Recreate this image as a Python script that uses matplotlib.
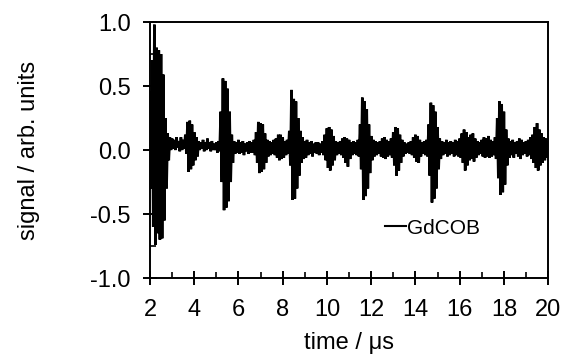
import numpy as np
import matplotlib
matplotlib.use("Agg")
import matplotlib.pyplot as plt
from matplotlib.ticker import MultipleLocator

plt.rcParams['font.family'] = ['Liberation Sans', 'DejaVu Sans']
plt.rcParams.update({
    'xtick.direction': 'inout', 'ytick.direction': 'inout',
    'xtick.major.size': 10, 'ytick.major.size': 10,
    'xtick.major.width': 1.4, 'ytick.major.width': 1.4,
    'xtick.minor.size': 4, 'ytick.minor.size': 4,
    'xtick.minor.width': 1.2, 'ytick.minor.width': 1.2,
    'xtick.major.pad': 10, 'ytick.major.pad': 9,
    'xtick.labelsize': 17, 'ytick.labelsize': 17,
    'axes.linewidth': 1.4,
})

t_start = 2.0
t_step = 0.1
upper = [
    0.45, 0.70, 0.98, 0.80, 0.78, 0.75, 0.59, 0.25, 0.13, 0.10,   # 2.0-2.9
    0.09, 0.08, 0.10, 0.07, 0.10, 0.08, 0.12, 0.22, 0.23, 0.20,   # 3.0-3.9
    0.14, 0.10, 0.07, 0.06, 0.08, 0.06, 0.09, 0.06, 0.07, 0.05,   # 4.0-4.9
    0.06, 0.07, 0.30, 0.56, 0.54, 0.48, 0.30, 0.12, 0.07, 0.06,   # 5.0-5.9
    0.08, 0.06, 0.07, 0.05, 0.06, 0.07, 0.06, 0.08, 0.14, 0.22,   # 6.0-6.9
    0.21, 0.20, 0.13, 0.08, 0.07, 0.06, 0.08, 0.09, 0.12, 0.12,   # 7.0-7.9
    0.10, 0.07, 0.08, 0.15, 0.47, 0.40, 0.38, 0.25, 0.15, 0.10,   # 8.0-8.9
    0.07, 0.08, 0.06, 0.07, 0.05, 0.06, 0.06, 0.05, 0.07, 0.12,   # 9.0-9.9
    0.17, 0.18, 0.16, 0.11, 0.07, 0.06, 0.07, 0.09, 0.10, 0.09,   # 10.0-10.9
    0.08, 0.06, 0.07, 0.06, 0.08, 0.20, 0.41, 0.38, 0.32, 0.20,   # 11.0-11.9
    0.11, 0.08, 0.07, 0.06, 0.07, 0.09, 0.10, 0.08, 0.07, 0.09,   # 12.0-12.9
    0.14, 0.18, 0.17, 0.12, 0.08, 0.06, 0.05, 0.06, 0.07, 0.10,   # 13.0-13.9
    0.12, 0.11, 0.08, 0.06, 0.07, 0.08, 0.20, 0.37, 0.35, 0.30,   # 14.0-14.9
    0.18, 0.09, 0.07, 0.06, 0.08, 0.06, 0.07, 0.06, 0.08, 0.07,   # 15.0-15.9
    0.09, 0.13, 0.16, 0.14, 0.10, 0.12, 0.13, 0.09, 0.07, 0.06,   # 16.0-16.9
    0.08, 0.10, 0.09, 0.11, 0.08, 0.07, 0.10, 0.25, 0.38, 0.36,   # 17.0-17.9
    0.30, 0.16, 0.09, 0.07, 0.08, 0.06, 0.07, 0.09, 0.08, 0.06,   # 18.0-18.9
    0.07, 0.08, 0.10, 0.12, 0.18, 0.21, 0.16, 0.13, 0.10, 0.09,   # 19.0-19.9
    0.07,                                                         # 20.0
]
lower = [
    -0.30, -0.60, -0.74, -0.65, -0.70, -0.69, -0.55, -0.30, -0.08, 0.00,
    0.01, 0.00, 0.02, -0.01, 0.00, 0.01, -0.03, -0.17, -0.15, -0.12,
    -0.08, -0.05, 0.00, 0.01, -0.01, 0.00, 0.01, -0.01, 0.00, 0.00,
    -0.02, -0.01, -0.25, -0.47, -0.45, -0.40, -0.25, -0.10, -0.03, -0.02,
    -0.03, -0.02, -0.04, -0.01, -0.03, -0.02, -0.02, -0.04, -0.10, -0.18,
    -0.17, -0.15, -0.10, -0.05, -0.04, -0.03, -0.04, -0.06, -0.08, -0.07,
    -0.06, -0.04, -0.03, -0.12, -0.39, -0.38, -0.30, -0.20, -0.10, -0.07,
    -0.06, -0.04, -0.03, -0.05, -0.02, -0.03, -0.04, -0.02, -0.04, -0.08,
    -0.14, -0.16, -0.12, -0.08, -0.04, -0.03, -0.04, -0.06, -0.10, -0.13,
    -0.07, -0.04, -0.03, -0.04, -0.05, -0.15, -0.39, -0.36, -0.30, -0.18,
    -0.08, -0.05, -0.04, -0.03, -0.05, -0.06, -0.07, -0.05, -0.04, -0.06,
    -0.12, -0.20, -0.16, -0.10, -0.05, -0.03, -0.02, -0.03, -0.04, -0.06,
    -0.09, -0.10, -0.05, -0.03, -0.04, -0.05, -0.20, -0.41, -0.38, -0.30,
    -0.15, -0.07, -0.04, -0.03, -0.05, -0.04, -0.03, -0.05, -0.04, -0.05,
    -0.06, -0.10, -0.16, -0.12, -0.08, -0.07, -0.09, -0.06, -0.04, -0.03,
    -0.05, -0.06, -0.05, -0.06, -0.05, -0.04, -0.07, -0.22, -0.35, -0.33,
    -0.27, -0.12, -0.06, -0.04, -0.06, -0.03, -0.05, -0.07, -0.04, -0.03,
    -0.05, -0.04, -0.07, -0.10, -0.14, -0.16, -0.12, -0.10, -0.08, -0.06,
    -0.05,
]
series_label = "GdCOB"
x_ticks = [2, 4, 6, 8, 10, 12, 14, 16, 18, 20]
y_ticks = [-1.0, -0.5, 0.0, 0.5, 1.0]

n = min(len(upper), len(lower))
t_env = t_start + t_step * np.arange(n)
# interleave upper and lower extremes to draw the oscillation
t_sig = np.empty(2 * n)
y_sig = np.empty(2 * n)
t_sig[0::2] = t_env
t_sig[1::2] = t_env + t_step / 2
y_sig[0::2] = upper[:n]
y_sig[1::2] = lower[:n]

fig = plt.figure(figsize=(5.68, 3.56), dpi=100)
ax = fig.add_axes([0.264, 0.219, 0.701, 0.719])
ax.plot(t_sig, y_sig, color='black', lw=1.9, label=series_label,
        solid_joinstyle='miter')

ax.set_xlim(2, 20)
ax.set_ylim(-1.0, 1.0)
ax.set_xticks(x_ticks)
ax.set_yticks(y_ticks)
ax.set_yticklabels([f"{v:.1f}" for v in y_ticks])
ax.xaxis.set_minor_locator(MultipleLocator(1))
ax.yaxis.set_minor_locator(MultipleLocator(0.25))
ax.tick_params(which='minor', direction='in')

ax.set_xlabel("time / μs", fontsize=17, labelpad=8)
ax.set_ylabel("signal / arb. units", fontsize=17, labelpad=36)

leg = ax.legend(loc='center left', bbox_to_anchor=(0.59, 0.195), frameon=False,
                fontsize=15, handlelength=1.0, handletextpad=0.05,
                borderaxespad=0, borderpad=0)
for h in leg.legend_handles:
    h.set_linewidth(1.5)

fig.savefig("out.png", dpi=100)
